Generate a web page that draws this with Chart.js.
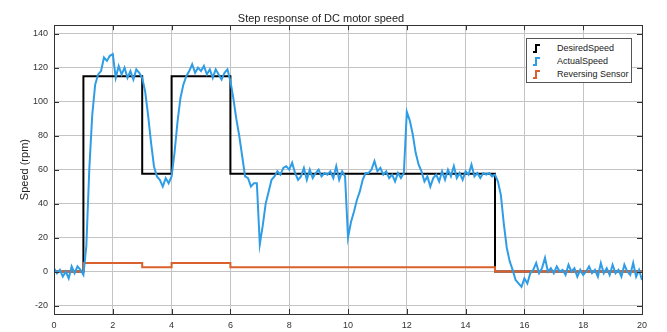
<!DOCTYPE html>
<html lang="en">
<head>
<meta charset="UTF-8">
<title>Step response of DC motor speed</title>
<style>
    body {
        margin: 0;
        padding: 0;
        background-color: #ffffff;
        font-family: "Liberation Sans", Arial, sans-serif;
    }
    .wrap {
        position: relative;
        width: 667px;
        height: 332px;
    }
    .legend {
        position: absolute;
        left: 526px;
        top: 38px;
        width: 104px;
        height: 43px;
        background: #ffffff;
        border: 1px solid #555;
        font-size: 9px;
        color: #222;
    }
    .legend .item {
        position: absolute;
        left: 3px;
        height: 12px;
        line-height: 12px;
        white-space: nowrap;
    }
    .legend svg {
        position: absolute;
        left: 0;
        top: 2px;
    }
    .legend span {
        position: absolute;
        left: 27px;
    }
</style>
</head>
<body>
<div class="wrap">
    <canvas id="speedChart" width="667" height="332"></canvas>
    <div class="legend" id="legend"></div>
</div>

<script src="https://cdn.jsdelivr.net/npm/chart.js"></script>
<script>
// sample times of the measured speed (s)
const actualTime = [
    0.0, 0.1, 0.2, 0.3, 0.4, 0.5, 0.6, 0.7, 0.8, 0.9,
    1.0, 1.1, 1.2, 1.3, 1.4, 1.5, 1.6, 1.7, 1.8, 1.9,
    2.0, 2.1, 2.2, 2.3, 2.4, 2.5, 2.6, 2.7, 2.8, 2.9,
    3.0, 3.1, 3.2, 3.3, 3.4, 3.5, 3.6, 3.7, 3.8, 3.9,
    4.0, 4.1, 4.2, 4.3, 4.4, 4.5, 4.6, 4.7, 4.8, 4.9,
    5.0, 5.1, 5.2, 5.3, 5.4, 5.5, 5.6, 5.7, 5.8, 5.9,
    6.0, 6.1, 6.2, 6.3, 6.4, 6.5, 6.6, 6.7, 6.8, 6.9,
    7.0, 7.1, 7.2, 7.3, 7.4, 7.5, 7.6, 7.7, 7.8, 7.9,
    8.0, 8.1, 8.2, 8.3, 8.4, 8.5, 8.6, 8.7, 8.8, 8.9,
    9.0, 9.1, 9.2, 9.3, 9.4, 9.5, 9.6, 9.7, 9.8, 9.9,
    10.0, 10.1, 10.2, 10.3, 10.4, 10.5, 10.6, 10.7, 10.8, 10.9,
    11.0, 11.1, 11.2, 11.3, 11.4, 11.5, 11.6, 11.7, 11.8, 11.9,
    12.0, 12.1, 12.2, 12.3, 12.4, 12.5, 12.6, 12.7, 12.8, 12.9,
    13.0, 13.1, 13.2, 13.3, 13.4, 13.5, 13.6, 13.7, 13.8, 13.9,
    14.0, 14.1, 14.2, 14.3, 14.4, 14.5, 14.6, 14.7, 14.8, 14.9,
    15.0, 15.1, 15.2, 15.3, 15.4, 15.5, 15.6, 15.7, 15.8, 15.9,
    16.0, 16.1, 16.2, 16.3, 16.4, 16.5, 16.6, 16.7, 16.8, 16.9,
    17.0, 17.1, 17.2, 17.3, 17.4, 17.5, 17.6, 17.7, 17.8, 17.9,
    18.0, 18.1, 18.2, 18.3, 18.4, 18.5, 18.6, 18.7, 18.8, 18.9,
    19.0, 19.1, 19.2, 19.3, 19.4, 19.5, 19.6, 19.7, 19.8, 19.9,
    20.0
];
// measured speed (rpm)
const actualSpeed = [
    2, -1, 1, -3, 0, -4, 3, -1, 3, 1,
    -2, 15, 60, 92, 110, 116, 118, 126, 124, 127,
    128, 114, 121, 116, 120, 114, 118, 113, 119, 117,
    114, 106, 92, 76, 62, 56, 54, 50, 55, 52,
    56, 70, 88, 102, 110, 115, 118, 122, 117, 120,
    118, 121, 116, 119, 114, 119, 116, 113, 117, 119,
    112, 102, 90, 80, 68, 56, 55, 50, 52, 52,
    16, 27, 40, 47, 54, 56, 59, 57, 61, 62,
    60, 64, 58, 54, 56, 61, 54, 60, 55, 58,
    60, 56, 58, 57, 59, 55, 62, 54, 59, 56,
    20, 29, 35, 42, 47, 54, 58, 58, 60, 65,
    59, 61, 57, 59, 55, 57, 53, 58, 55, 58,
    94, 89, 81, 70, 63, 59, 53, 56, 50, 55,
    57, 53, 59, 54, 60, 56, 62, 55, 58, 54,
    59, 57, 63, 56, 58, 55, 58, 57, 58, 56,
    57, 53, 45, 28, 14, 6, 1, -5, -7, -9,
    -4, -7, -1, 1, 5, -1, 2, 8, 0, 2,
    -1, 3, 0, 1, -2, 4, 0, 2, -3, 1,
    -2, 0, 3, -1, 1, -3, 5, -1, 2, -2,
    4, -1, 1, -3, 4, 0, -2, 5, -3, 1,
    -5
];

// step signals: each value holds from its time until the next one
const stepTime = [0, 1, 3, 4, 6, 15, 20];
const desiredSpeed = [0, 115, 57.5, 115, 57.5, 0, 0];
const reversingSensor = [0, 5, 2.5, 5, 2.5, 0, 0];

const xTicks = [0, 2, 4, 6, 8, 10, 12, 14, 16, 18, 20];
const yTicks = [-20, 0, 20, 40, 60, 80, 100, 120, 140];

const seriesNames = ['DesiredSpeed', 'ActualSpeed', 'Reversing Sensor'];
const seriesColors = ['#000000', '#2f9de6', '#d9612e'];

function toPoints(xs, ys) {
    return xs.map((x, i) => ({ x: x, y: ys[i] }));
}

// matlab style box with inward tick marks
const boxPlugin = {
    id: 'box',
    afterDatasetsDraw(chart) {
        const { ctx, chartArea: a, scales } = chart;
        ctx.save();
        ctx.strokeStyle = '#333';
        ctx.lineWidth = 1;
        ctx.beginPath();
        scales.x.ticks.forEach((t, i) => {
            const px = Math.round(scales.x.getPixelForTick(i)) + 0.5;
            ctx.moveTo(px, a.bottom);
            ctx.lineTo(px, a.bottom - 5);
            ctx.moveTo(px, a.top);
            ctx.lineTo(px, a.top + 5);
        });
        scales.y.ticks.forEach((t, i) => {
            const py = Math.round(scales.y.getPixelForTick(i)) + 0.5;
            ctx.moveTo(a.left, py);
            ctx.lineTo(a.left + 5, py);
            ctx.moveTo(a.right, py);
            ctx.lineTo(a.right - 5, py);
        });
        ctx.stroke();
        ctx.strokeRect(Math.round(a.left) + 0.5, Math.round(a.top) + 0.5,
            Math.round(a.right - a.left), Math.round(a.bottom - a.top));
        ctx.restore();
    }
};

const ctx = document.getElementById('speedChart').getContext('2d');
new Chart(ctx, {
    type: 'line',
    data: {
        datasets: [
            {
                label: seriesNames[1],
                data: toPoints(actualTime, actualSpeed),
                borderColor: seriesColors[1],
                borderWidth: 2,
                order: 0
            },
            {
                label: seriesNames[2],
                data: toPoints(stepTime, reversingSensor),
                borderColor: seriesColors[2],
                borderWidth: 2,
                stepped: 'before',
                order: 1
            },
            {
                label: seriesNames[0],
                data: toPoints(stepTime, desiredSpeed),
                borderColor: seriesColors[0],
                borderWidth: 2,
                stepped: 'before',
                order: 2
            }
        ]
    },
    options: {
        responsive: false,
        animation: false,
        layout: { padding: { left: 0, right: 25, top: 0, bottom: 0 } },
        elements: { point: { radius: 0 }, line: { tension: 0 } },
        plugins: {
            legend: { display: false },
            tooltip: { enabled: false },
            title: {
                display: true,
                text: 'Step response of DC motor speed',
                color: '#222',
                font: { family: '"Liberation Sans", Arial, sans-serif', size: 11, weight: 'normal' },
                padding: { top: 12, bottom: 0 }
            }
        },
        scales: {
            x: {
                type: 'linear',
                min: 0,
                max: 20,
                afterBuildTicks: s => { s.ticks = xTicks.map(v => ({ value: v })); },
                afterFit: s => { s.height = 18; },
                grid: { color: '#c4c4c4', drawTicks: false },
                border: { display: false },
                ticks: {
                    color: '#333',
                    padding: 6,
                    maxRotation: 0,
                    font: { family: '"Liberation Sans", Arial, sans-serif', size: 9 }
                }
            },
            y: {
                type: 'linear',
                min: -25,
                max: 145,
                afterBuildTicks: s => { s.ticks = yTicks.map(v => ({ value: v })); },
                afterFit: s => { s.width = 54; },
                grid: { color: '#c4c4c4', drawTicks: false },
                border: { display: false },
                ticks: {
                    color: '#333',
                    padding: 6,
                    font: { family: '"Liberation Sans", Arial, sans-serif', size: 9 }
                },
                title: {
                    display: true,
                    text: 'Speed (rpm)',
                    color: '#222',
                    font: { family: '"Liberation Sans", Arial, sans-serif', size: 11 },
                    padding: { top: 18, bottom: 0 }
                }
            }
        }
    },
    plugins: [boxPlugin]
});

// legend drawn as html in the upper right corner of the axes
const legendEl = document.getElementById('legend');
seriesNames.forEach((name, i) => {
    const item = document.createElement('div');
    item.className = 'item';
    item.style.top = (3 + i * 13) + 'px';
    item.innerHTML =
        '<svg width="12" height="9"><path d="M3,8 H6 V1 H10" fill="none" stroke="' +
        seriesColors[i] + '" stroke-width="2"/></svg><span>' + name + '</span>';
    legendEl.appendChild(item);
});
</script>
</body>
</html>
